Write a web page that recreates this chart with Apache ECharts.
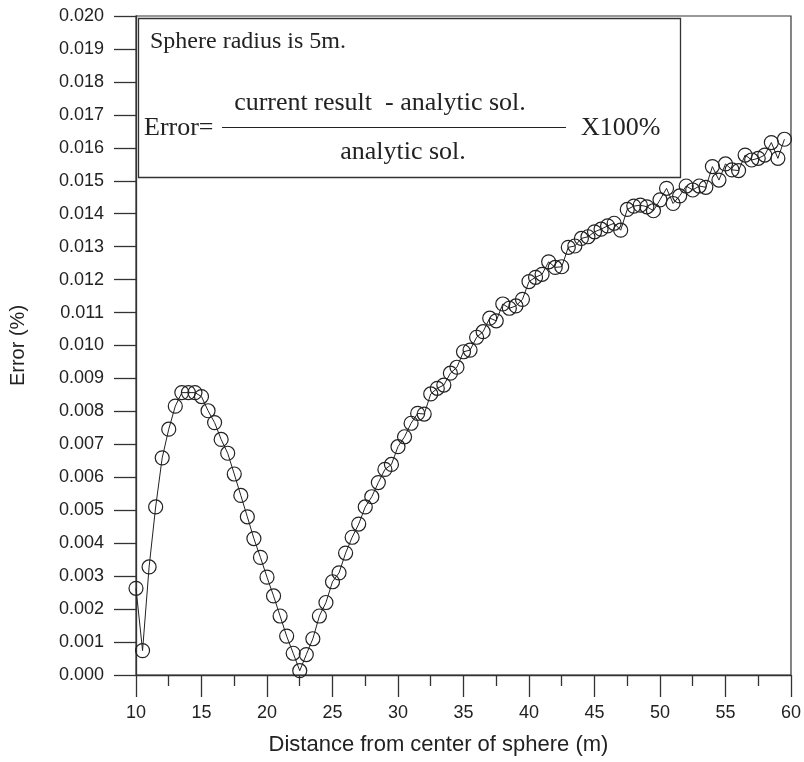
<!DOCTYPE html>
<html>
<head>
<meta charset="utf-8">
<script src="https://cdn.jsdelivr.net/npm/echarts@6/dist/echarts.min.js"></script>
<style>
html,body{margin:0;padding:0;background:#fff;}
#chart{width:804px;height:762px;}
</style>
</head>
<body>
<div id="chart"></div>
<script>
// Distance from center of sphere (m)
const distances = [
  10,10.5,11,11.5,12,12.5,13,13.5,14,14.5,
  15,15.5,16,16.5,17,17.5,18,18.5,19,19.5,
  20,20.5,21,21.5,22,22.5,23,23.5,24,24.5,
  25,25.5,26,26.5,27,27.5,28,28.5,29,29.5,
  30,30.5,31,31.5,32,32.5,33,33.5,34,34.5,
  35,35.5,36,36.5,37,37.5,38,38.5,39,39.5,
  40,40.5,41,41.5,42,42.5,43,43.5,44,44.5,
  45,45.5,46,46.5,47,47.5,48,48.5,49,49.5,
  50,50.5,51,51.5,52,52.5,53,53.5,54,54.5,
  55,55.5,56,56.5,57,57.5,58,58.5,59,59.5
];
// Error (%)
const errorValues = [
  0.00263,0.00074,0.00328,0.00510,0.00659,0.00746,0.00816,0.00857,0.00857,0.00857,
  0.00845,0.00802,0.00766,0.00715,0.00673,0.00610,0.00545,0.00480,0.00414,0.00357,
  0.00297,0.00240,0.00179,0.00118,0.00066,0.00013,0.00062,0.00110,0.00179,0.00220,
  0.00283,0.00310,0.00370,0.00418,0.00458,0.00510,0.00541,0.00584,0.00624,0.00639,
  0.00693,0.00723,0.00764,0.00794,0.00792,0.00853,0.00870,0.00880,0.00916,0.00934,
  0.00981,0.00986,0.01025,0.01042,0.01083,0.01075,0.01126,0.01113,0.01120,0.01140,
  0.01194,0.01207,0.01216,0.01254,0.01237,0.01239,0.01298,0.01302,0.01325,0.01330,
  0.01345,0.01353,0.01363,0.01371,0.01350,0.01413,0.01423,0.01426,0.01421,0.01409,
  0.01442,0.01477,0.01431,0.01454,0.01484,0.01472,0.01484,0.01480,0.01543,0.01502,
  0.01551,0.01533,0.01531,0.01578,0.01563,0.01568,0.01578,0.01616,0.01568,0.01626
];
const xAxisTitle = 'Distance from center of sphere (m)';
const yAxisTitle = 'Error (%)';
const noteLine1 = 'Sphere radius is 5m.';
const numeratorText = 'current result  - analytic sol.';
const denominatorText = 'analytic sol.';
const errorLabel = 'Error=';
const factorLabel = 'X100%';

const seriesData = distances.map((d, i) => [d, errorValues[i]]);
const axisColor = '#333';
const serif = '"Liberation Serif", "Times New Roman", serif';

const chart = echarts.init(document.getElementById('chart'), null, {renderer: 'canvas'});
chart.setOption({
  animation: false,
  backgroundColor: '#fff',
  grid: {left: 133, right: 13, top: 16, bottom: 87, show: true, borderColor: axisColor, borderWidth: 1.2, backgroundColor: 'transparent'},
  xAxis: {
    type: 'value', min: 10, max: 60, interval: 5,
    name: xAxisTitle, nameLocation: 'middle', nameGap: 59,
    nameTextStyle: {fontFamily: 'Liberation Sans', fontSize: 22, color: '#222', padding: [0, 50, 0, 0]},
    axisLine: {show: true, onZero: false, lineStyle: {color: axisColor, width: 1.3}},
    axisTick: {show: true, inside: false, length: 22, lineStyle: {color: axisColor, width: 1.3}},
    minorTick: {show: true, splitNumber: 2, length: 11, lineStyle: {color: axisColor, width: 1.3}},
    axisLabel: {margin: 29, fontFamily: 'Liberation Sans', fontSize: 18, color: '#222'},
    splitLine: {show: false}
  },
  yAxis: {
    type: 'value', min: 0, max: 0.02, interval: 0.001,
    name: yAxisTitle, nameLocation: 'middle', nameGap: 108, nameRotate: 90,
    nameTextStyle: {fontFamily: 'Liberation Sans', fontSize: 20, color: '#222'},
    axisLine: {show: true, onZero: false, lineStyle: {color: axisColor, width: 1.3}},
    axisTick: {show: true, inside: false, length: 22, lineStyle: {color: axisColor, width: 1.3}},
    axisLabel: {margin: 32, fontFamily: 'Liberation Sans', fontSize: 18, color: '#222',
      formatter: v => v.toFixed(3)},
    splitLine: {show: false}
  },
  series: [{
    type: 'line',
    data: seriesData,
    symbol: 'circle',
    symbolSize: 14,
    showAllSymbol: true,
    lineStyle: {color: '#222', width: 1},
    itemStyle: {color: 'rgba(255,255,255,0)', borderColor: '#222', borderWidth: 1.2},
    emphasis: {disabled: true},
    z: 3
  }],
  graphic: [
    {type: 'rect', shape: {x: 138.5, y: 18.5, width: 542, height: 159}, style: {fill: '#fff', stroke: axisColor, lineWidth: 1.3}, z: 10},
    {type: 'text', style: {text: noteLine1, x: 150, y: 42, font: '24px ' + serif, fill: '#222', align: 'left', verticalAlign: 'middle'}, z: 11},
    {type: 'text', style: {text: errorLabel, x: 144, y: 128, font: '26px ' + serif, fill: '#222', align: 'left', verticalAlign: 'middle'}, z: 11},
    {type: 'line', shape: {x1: 222, y1: 127.5, x2: 566, y2: 127.5}, style: {stroke: '#222', lineWidth: 1}, z: 11},
    {type: 'text', style: {text: numeratorText, x: 380, y: 103, font: '26px ' + serif, fill: '#222', align: 'center', verticalAlign: 'middle'}, z: 11},
    {type: 'text', style: {text: denominatorText, x: 403, y: 152, font: '26px ' + serif, fill: '#222', align: 'center', verticalAlign: 'middle'}, z: 11},
    {type: 'text', style: {text: factorLabel, x: 581, y: 128, font: '26px ' + serif, fill: '#222', align: 'left', verticalAlign: 'middle'}, z: 11}
  ]
});
</script>
</body>
</html>
